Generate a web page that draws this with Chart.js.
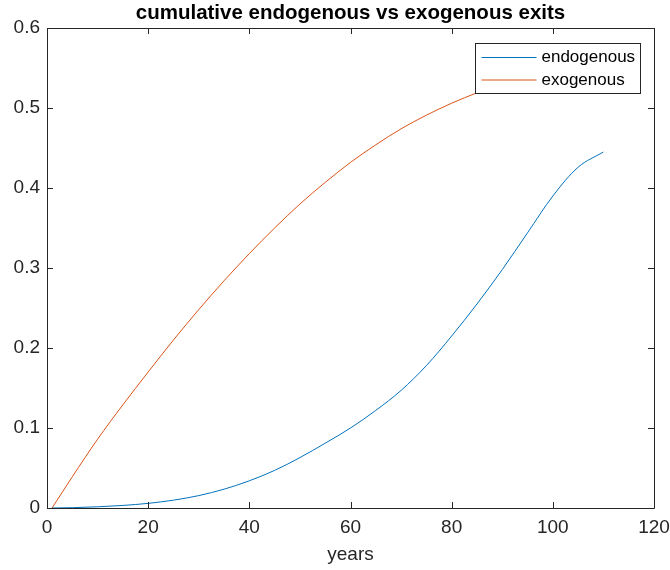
<!DOCTYPE html>
<html>
<head>
<meta charset="utf-8">
<script src="https://cdn.jsdelivr.net/npm/chart.js@4.4.0/dist/chart.umd.min.js"></script>
<style>
  html, body { margin: 0; padding: 0; background: #fff; }
</style>
</head>
<body>
<canvas id="exits" width="670" height="570"></canvas>
<script>
// values
var years = [1, 5, 10, 15, 20, 25, 30, 35, 40, 45, 50, 55, 60, 65, 70, 75, 80, 85, 90, 95, 100, 105, 110];
var endogenous = [0, 0.0004, 0.0015, 0.0032, 0.0058, 0.0098, 0.0155, 0.0235, 0.034, 0.047, 0.063, 0.081, 0.100,
                  0.122, 0.147, 0.178, 0.215, 0.255, 0.298, 0.344, 0.390, 0.426, 0.445];
var exogenous = [0, 0.039, 0.086, 0.129, 0.170, 0.210, 0.248, 0.284, 0.318, 0.350, 0.380, 0.407, 0.432,
                 0.454, 0.474, 0.491, 0.506, 0.519, 0.531, 0.541, 0.551, 0.559, 0.567];
var xTicks = [0, 20, 40, 60, 80, 100, 120];
var yTicks = [0, 0.1, 0.2, 0.3, 0.4, 0.5, 0.6];
var chartTitle = 'cumulative endogenous vs exogenous exits';
var xLabel = 'years';

var axisColor = '#262626';
var fontFamily = '"Liberation Sans", Arial, Helvetica, sans-serif';

function toPoints(xs, ys) {
    return xs.map(function (x, i) { return {x: x, y: ys[i]}; });
}

// matlab style box with inward ticks on all four sides
var axesBox = {
    id: 'axesBox',
    afterDatasetsDraw: function (chart) {
        var ctx = chart.ctx;
        var a = chart.chartArea;
        var xs = chart.scales.x, ys = chart.scales.y;
        var tl = 6;
        ctx.save();
        ctx.strokeStyle = axisColor;
        ctx.lineWidth = 1;
        ctx.beginPath();
        ctx.rect(Math.round(a.left) + 0.5, Math.round(a.top) + 0.5,
                 Math.round(a.right - a.left), Math.round(a.bottom - a.top));
        xTicks.forEach(function (v) {
            var px = Math.round(xs.getPixelForValue(v)) + 0.5;
            ctx.moveTo(px, a.bottom); ctx.lineTo(px, a.bottom - tl);
            ctx.moveTo(px, a.top); ctx.lineTo(px, a.top + tl);
        });
        yTicks.forEach(function (v) {
            var py = Math.round(ys.getPixelForValue(v)) + 0.5;
            ctx.moveTo(a.left, py); ctx.lineTo(a.left + tl, py);
            ctx.moveTo(a.right, py); ctx.lineTo(a.right - tl, py);
        });
        ctx.stroke();

        // title, centred over the axes
        ctx.fillStyle = '#000';
        ctx.font = 'bold 20.5px ' + fontFamily;
        ctx.textAlign = 'center';
        ctx.textBaseline = 'alphabetic';
        ctx.fillText(chartTitle, (a.left + a.right) / 2, a.top - 9);
        ctx.restore();
    }
};

// legend box in the upper right corner, opaque like matlab
var boxLegend = {
    id: 'boxLegend',
    afterDraw: function (chart) {
        var ctx = chart.ctx;
        var a = chart.chartArea;
        var w = 165, h = 50;
        var x0 = Math.round(a.right - 14 - w) + 0.5;
        var y0 = Math.round(a.top + 15) + 0.5;
        ctx.save();
        ctx.fillStyle = '#fff';
        ctx.fillRect(x0, y0, w, h);
        ctx.strokeStyle = axisColor;
        ctx.lineWidth = 1;
        ctx.strokeRect(x0, y0, w, h);
        ctx.font = '17px ' + fontFamily;
        ctx.textBaseline = 'middle';
        ctx.textAlign = 'left';
        chart.data.datasets.forEach(function (ds, i) {
            var yy = y0 + 14 + i * 22.5;
            ctx.strokeStyle = ds.borderColor;
            ctx.beginPath();
            ctx.moveTo(x0 + 6, yy);
            ctx.lineTo(x0 + 61, yy);
            ctx.stroke();
            ctx.fillStyle = '#000';
            ctx.fillText(ds.label, x0 + 66, yy);
        });
        ctx.restore();
    }
};

Chart.defaults.font.family = fontFamily;

new Chart(document.getElementById('exits').getContext('2d'), {
    type: 'line',
    data: {
        datasets: [
            {
                label: 'endogenous',
                data: toPoints(years, endogenous),
                borderColor: '#0072BD',
                borderWidth: 1,
                pointRadius: 0,
                fill: false,
                cubicInterpolationMode: 'monotone'
            },
            {
                label: 'exogenous',
                data: toPoints(years, exogenous),
                borderColor: '#D95319',
                borderWidth: 1,
                pointRadius: 0,
                fill: false,
                cubicInterpolationMode: 'monotone'
            }
        ]
    },
    options: {
        responsive: false,
        animation: false,
        layout: {
            padding: {top: 28, right: 16, left: 0, bottom: 0}
        },
        plugins: {
            legend: {display: false},
            title: {display: false},
            tooltip: {enabled: false}
        },
        scales: {
            x: {
                type: 'linear',
                min: 0,
                max: 120,
                afterBuildTicks: function (scale) {
                    scale.ticks = xTicks.map(function (v) { return {value: v}; });
                },
                afterFit: function (scale) {
                    scale.height = 62;
                    scale.paddingLeft = 0;
                    scale.paddingRight = 0;
                },
                grid: {display: false, drawTicks: false},
                border: {display: false},
                ticks: {
                    color: axisColor,
                    font: {size: 19},
                    padding: 8,
                    maxRotation: 0,
                    callback: function (v) { return String(v); }
                },
                title: {
                    display: true,
                    text: xLabel,
                    color: axisColor,
                    font: {size: 19},
                    padding: {top: 0, bottom: 4}
                }
            },
            y: {
                type: 'linear',
                min: 0,
                max: 0.6,
                afterBuildTicks: function (scale) {
                    scale.ticks = yTicks.map(function (v) { return {value: v}; });
                },
                afterFit: function (scale) { scale.width = 47; },
                grid: {display: false, drawTicks: false},
                border: {display: false},
                ticks: {
                    color: axisColor,
                    font: {size: 19},
                    padding: 7,
                    callback: function (v) { return String(v); }
                }
            }
        }
    },
    plugins: [axesBox, boxLegend]
});
</script>
</body>
</html>
